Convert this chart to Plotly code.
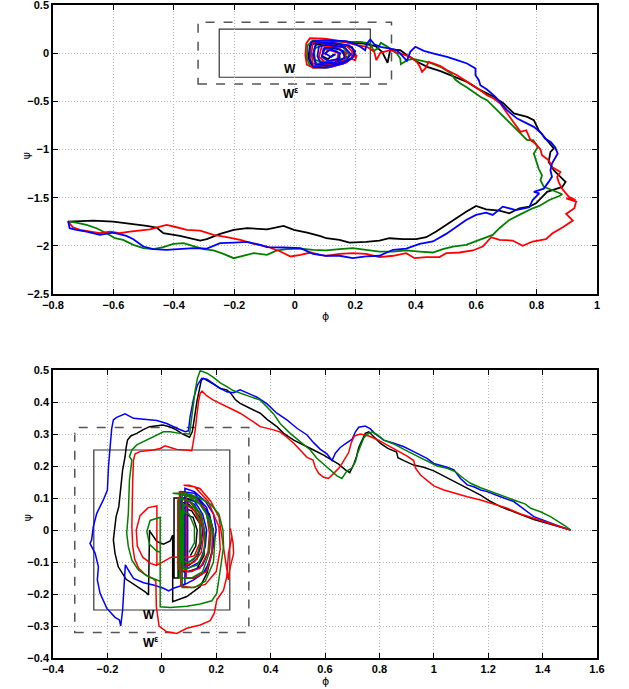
import plotly.graph_objects as go
from plotly.subplots import make_subplots

# ---------------- data: (phi, psi) points ----------------
# top panel
top_black = [(-0.750,-1.748),(-0.667,-1.738),(-0.601,-1.748),(-0.534,-1.772),(-0.490,-1.793),(-0.457,-1.810),
    (-0.435,-1.869),(-0.380,-1.897),(-0.313,-1.945),(-0.291,-1.931),(-0.247,-1.876),(-0.202,-1.834),(-0.158,-1.817),
    (-0.092,-1.828),(-0.037,-1.793),(-0.003,-1.834),(0.041,-1.862),(0.085,-1.900),(0.104,-1.921),(0.148,-1.938),
    (0.181,-1.966),(0.236,-1.959),(0.280,-1.945),(0.313,-1.921),(0.358,-1.931),(0.402,-1.931),(0.435,-1.910),
    (0.468,-1.852),(0.501,-1.783),(0.534,-1.714),(0.567,-1.645),(0.600,-1.586),(0.633,-1.621),(0.677,-1.634),
    (0.710,-1.662),(0.743,-1.610),(0.776,-1.593),(0.798,-1.559),(0.835,-1.440),(0.885,-1.388),(0.896,-1.336),
    (0.879,-1.284),(0.857,-1.215),(0.840,-1.128),(0.846,-1.025),(0.857,-0.990),(0.835,-0.903),(0.807,-0.800),
    (0.791,-0.696),(0.769,-0.661),(0.725,-0.626),(0.691,-0.522),(0.658,-0.453),(0.614,-0.384),(0.570,-0.298),
    (0.526,-0.239),(0.482,-0.187),(0.438,-0.142),(0.405,-0.090),(0.372,-0.021),(0.349,0.031),(0.316,0.038),
    (0.307,-0.100),(0.289,0.014),(0.267,0.073),(0.228,0.100),(0.206,0.107),
    (0.15,0.12),(0.08,0.12),(0.05,0.08),(0.045,-0.05),(0.06,-0.15),(0.11,-0.15),(0.17,-0.09),(0.20,-0.02),
    (0.19,0.06),(0.13,0.10),(0.07,0.09),(0.06,-0.02),(0.07,-0.11),(0.13,-0.10),(0.17,-0.04),(0.15,0.04),
    (0.10,0.06),(0.09,-0.03),(0.11,-0.06),(0.13,-0.01)]

top_green = [(-0.750,-1.748),(-0.723,-1.759),(-0.689,-1.783),(-0.656,-1.817),(-0.623,-1.869),(-0.595,-1.921),
    (-0.568,-1.938),(-0.534,-1.990),(-0.501,-2.024),(-0.468,-2.034),(-0.435,-2.014),(-0.402,-1.979),(-0.368,-1.972),
    (-0.335,-2.000),(-0.302,-2.034),(-0.269,-2.048),(-0.236,-2.083),(-0.202,-2.128),(-0.169,-2.103),(-0.136,-2.076),
    (-0.092,-2.093),(-0.059,-2.048),(-0.025,-2.034),(0.019,-2.028),(0.060,-2.041),(0.104,-2.048),(0.148,-2.034),
    (0.192,-2.024),(0.236,-2.041),(0.280,-2.059),(0.325,-2.059),(0.369,-2.048),(0.413,-2.059),(0.457,-2.069),
    (0.490,-2.034),(0.523,-2.007),(0.567,-1.990),(0.611,-1.938),(0.655,-1.886),(0.677,-1.817),(0.710,-1.731),
    (0.743,-1.679),(0.787,-1.610),(0.809,-1.586),(0.842,-1.524),(0.875,-1.483),(0.885,-1.464),(0.851,-1.420),
    (0.824,-1.388),(0.813,-1.319),(0.818,-1.267),(0.807,-1.198),(0.800,-1.129),(0.791,-1.042),(0.804,-0.973),
    (0.789,-0.904),(0.769,-0.903),(0.747,-0.834),(0.725,-0.765),(0.702,-0.696),(0.680,-0.627),(0.658,-0.557),
    (0.636,-0.488),(0.614,-0.453),(0.592,-0.402),(0.570,-0.357),(0.548,-0.315),(0.531,-0.274),(0.515,-0.205),
    (0.482,-0.142),(0.449,-0.100),(0.415,-0.073),(0.393,-0.059),(0.371,-0.073),(0.351,-0.114),(0.349,-0.055),
    (0.338,-0.004),(0.307,0.066),(0.285,0.107),(0.274,0.048),(0.261,0.024),(0.250,0.100),(0.217,0.117),
    (0.184,0.117),(0.12,0.13),(0.06,0.13),(0.042,0.08),(0.04,-0.05),(0.05,-0.13),(0.10,-0.14),(0.16,-0.09),
    (0.18,-0.02),(0.16,0.06),(0.10,0.09),(0.065,0.05),(0.065,-0.07),(0.11,-0.10),(0.15,-0.05),(0.14,0.02),(0.10,0.04)]

top_red = [(-0.750,-1.748),(-0.734,-1.807),(-0.711,-1.834),(-0.678,-1.852),(-0.645,-1.869),(-0.612,-1.852),
    (-0.579,-1.869),(-0.546,-1.852),(-0.512,-1.841),(-0.479,-1.828),(-0.446,-1.800),(-0.424,-1.783),(-0.391,-1.807),
    (-0.357,-1.834),(-0.313,-1.841),(-0.269,-1.886),(-0.225,-1.910),(-0.180,-1.938),(-0.136,-1.979),(-0.092,-2.007),
    (-0.048,-2.059),(-0.014,-2.110),(0.019,-2.093),(0.052,-2.069),(0.085,-2.093),(0.104,-2.103),(0.148,-2.083),
    (0.192,-2.076),(0.236,-2.083),(0.280,-2.117),(0.325,-2.103),(0.369,-2.076),(0.396,-2.128),(0.435,-2.117),
    (0.479,-2.117),(0.501,-2.076),(0.545,-2.069),(0.589,-2.048),(0.622,-2.007),(0.650,-1.910),(0.677,-1.938),
    (0.721,-1.945),(0.754,-2.000),(0.787,-1.955),(0.831,-1.931),(0.853,-1.869),(0.887,-1.807),(0.920,-1.738),
    (0.898,-1.669),(0.925,-1.610),(0.931,-1.541),(0.898,-1.507),(0.929,-1.526),(0.907,-1.492),(0.884,-1.406),
    (0.873,-1.336),(0.868,-1.284),(0.879,-1.233),(0.851,-1.181),(0.840,-1.111),(0.818,-1.059),(0.813,-1.000),
    (0.796,-0.938),(0.780,-0.903),(0.766,-0.800),(0.747,-0.817),(0.725,-0.723),(0.702,-0.627),(0.680,-0.523),
    (0.658,-0.471),(0.636,-0.436),(0.614,-0.384),(0.581,-0.315),(0.537,-0.229),(0.504,-0.177),(0.482,-0.135),
    (0.460,-0.107),(0.443,-0.090),(0.432,-0.159),(0.421,-0.194),(0.413,-0.135),(0.404,-0.090),(0.382,-0.038),
    (0.349,-0.004),(0.316,0.031),(0.283,0.004),(0.270,-0.073),(0.263,0.014),(0.239,0.066),(0.206,0.083),
    (0.16,0.12),(0.10,0.15),(0.05,0.155),(0.038,0.10),(0.035,-0.02),(0.04,-0.12),(0.06,-0.15),(0.12,-0.145),
    (0.17,-0.10),(0.19,-0.05),(0.205,-0.02),(0.200,-0.075),(0.188,-0.06),(0.19,0.02),(0.17,0.08),(0.11,0.12),
    (0.06,0.11),(0.055,0.0),(0.06,-0.11),(0.12,-0.12),(0.165,-0.07),(0.17,0.0),(0.14,0.06),(0.09,0.08),
    (0.08,-0.04),(0.10,-0.09),(0.14,-0.07),(0.145,0.0),(0.11,0.04),(0.10,-0.02)]

top_blue = [(-0.750,-1.741),(-0.745,-1.817),(-0.723,-1.834),(-0.689,-1.852),(-0.645,-1.886),(-0.601,-1.862),
    (-0.557,-1.897),(-0.534,-1.931),(-0.501,-2.007),(-0.468,-2.034),(-0.424,-2.041),(-0.380,-2.034),(-0.335,-2.024),
    (-0.291,-2.028),(-0.247,-1.972),(-0.202,-1.966),(-0.158,-1.959),(-0.114,-1.990),(-0.092,-2.014),(-0.037,-2.017),
    (0.019,-2.024),(0.060,-2.083),(0.104,-2.103),(0.148,-2.103),(0.192,-2.128),(0.236,-2.110),(0.280,-2.103),
    (0.325,-2.041),(0.369,-2.028),(0.413,-1.979),(0.457,-1.955),(0.501,-1.876),(0.534,-1.807),(0.567,-1.731),
    (0.600,-1.679),(0.633,-1.655),(0.655,-1.679),(0.688,-1.593),(0.732,-1.628),(0.776,-1.600),(0.787,-1.524),
    (0.809,-1.455),(0.791,-1.440),(0.824,-1.406),(0.840,-1.336),(0.851,-1.284),(0.846,-1.215),(0.851,-1.146),
    (0.870,-1.042),(0.862,-0.980),(0.847,-0.921),(0.828,-0.886),(0.817,-0.834),(0.791,-0.765),(0.758,-0.713),
    (0.736,-0.679),(0.702,-0.592),(0.680,-0.506),(0.664,-0.453),(0.636,-0.377),(0.614,-0.332),(0.609,-0.280),
    (0.598,-0.229),(0.598,-0.159),(0.570,-0.107),(0.537,-0.073),(0.504,-0.038),(0.460,-0.004),(0.427,0.024),
    (0.399,0.066),(0.382,0.014),(0.371,-0.080),(0.355,-0.021),(0.338,0.031),(0.316,0.048),(0.283,0.066),
    (0.263,0.093),(0.250,0.142),(0.239,0.100),(0.233,0.031),(0.217,0.066),(0.195,0.100),
    (0.17,0.125),(0.10,0.135),(0.055,0.12),(0.05,0.04),(0.05,-0.06),(0.06,-0.14),(0.10,-0.15),(0.16,-0.11),
    (0.19,-0.05),(0.20,0.02),(0.18,0.08),(0.12,0.11),(0.07,0.105),(0.062,0.0),(0.07,-0.12),(0.12,-0.13),
    (0.17,-0.08),(0.185,-0.01),(0.165,0.06),(0.11,0.09),(0.08,0.07),(0.075,-0.03),(0.085,-0.10),(0.13,-0.10),
    (0.165,-0.05),(0.16,0.02),(0.13,0.06),(0.095,0.05),(0.09,-0.04),(0.11,-0.08),(0.145,-0.06),(0.15,0.0),
    (0.12,0.04),(0.10,0.0),(0.12,-0.04),(0.135,-0.01)]

# bottom panel
bot_black = [(1.503,0.0),(1.466,0.008),(1.417,0.021),(1.368,0.033),(1.331,0.044),(1.294,0.057),(1.245,0.073),
    (1.209,0.089),(1.172,0.109),(1.135,0.125),(1.098,0.141),(1.061,0.158),(1.037,0.167),(1.000,0.185),
    (0.963,0.196),(0.926,0.203),(0.890,0.217),(0.868,0.226),(0.863,0.244),(0.831,0.255),(0.804,0.271),
    (0.779,0.292),(0.761,0.307),(0.748,0.302),(0.736,0.279),(0.724,0.258),(0.715,0.227),(0.706,0.206),
    (0.691,0.179),(0.675,0.188),(0.650,0.206),(0.626,0.219),(0.595,0.234),(0.558,0.250),(0.522,0.266),
    (0.485,0.281),(0.448,0.302),(0.423,0.323),(0.387,0.346),(0.362,0.365),(0.337,0.375),(0.313,0.385),
    (0.288,0.396),(0.270,0.408),(0.254,0.427),(0.239,0.438),(0.215,0.442),(0.190,0.456),(0.168,0.467),
    (0.153,0.474),(0.145,0.467),(0.139,0.443),(0.129,0.401),(0.119,0.344),(0.112,0.307),(0.102,0.290),
    (0.077,0.300),(0.053,0.313),(0.028,0.323),(0.004,0.328),(-0.021,0.325),(-0.045,0.323),(-0.070,0.313),
    (-0.092,0.302),(-0.114,0.294),(-0.126,0.281),(-0.131,0.258),(-0.135,0.229),(-0.144,0.188),(-0.151,0.135),
    (-0.158,0.073),(-0.168,0.042),(-0.173,0.0),(-0.178,-0.031),(-0.172,-0.073),(-0.160,-0.115),(-0.131,-0.154),
    (-0.092,-0.177),(-0.061,-0.193),(-0.049,-0.203),(-0.045,0.0),(-0.043,-0.005),(-0.018,-0.036),(0.006,-0.044),
    (0.031,-0.034),(0.040,-0.016),(0.040,-0.224),(0.092,-0.208),(0.141,-0.177),(0.166,-0.135),(0.185,-0.07),
    (0.19,-0.01),(0.175,0.05),(0.14,0.085),(0.09,0.10),
    (0.045,0.100),(0.045,-0.15),(0.06,-0.15),(0.06,0.09),(0.10,0.08),(0.14,0.04),(0.16,-0.02),(0.155,-0.08),
    (0.13,-0.12),(0.095,-0.13),(0.075,-0.13),(0.075,0.07),(0.11,0.06),(0.14,0.02),(0.145,-0.04),(0.13,-0.09),
    (0.10,-0.11),(0.085,-0.11),(0.085,0.05),(0.115,0.04),(0.13,0.0),(0.125,-0.05),(0.105,-0.08)]

bot_blue = [(1.503,0.0),(1.466,0.010),(1.417,0.026),(1.368,0.042),(1.319,0.073),(1.294,0.089),(1.245,0.104),
    (1.196,0.120),(1.172,0.125),(1.147,0.135),(1.123,0.141),(1.098,0.161),(1.074,0.188),(1.049,0.196),
    (1.000,0.208),(0.975,0.224),(0.926,0.245),(0.890,0.260),(0.853,0.271),(0.816,0.281),(0.785,0.300),
    (0.767,0.316),(0.748,0.325),(0.724,0.321),(0.712,0.307),(0.699,0.283),(0.681,0.273),(0.656,0.258),
    (0.638,0.240),(0.626,0.217),(0.607,0.238),(0.583,0.252),(0.558,0.273),(0.534,0.297),(0.497,0.318),
    (0.460,0.344),(0.423,0.365),(0.387,0.394),(0.350,0.415),(0.313,0.430),(0.288,0.438),(0.264,0.429),
    (0.239,0.432),(0.215,0.443),(0.190,0.458),(0.166,0.471),(0.147,0.474),(0.131,0.453),(0.117,0.411),
    (0.104,0.354),(0.098,0.310),(0.086,0.307),(0.055,0.318),(0.018,0.333),(-0.018,0.342),(-0.055,0.346),
    (-0.104,0.349),(-0.135,0.363),(-0.166,0.352),(-0.178,0.344),(-0.184,0.318),(-0.190,0.260),(-0.196,0.198),
    (-0.200,0.125),(-0.215,0.094),(-0.239,0.052),(-0.252,0.010),(-0.258,-0.031),(-0.264,-0.042),(-0.245,-0.073),
    (-0.233,-0.115),(-0.237,-0.156),(-0.227,-0.198),(-0.202,-0.245),(-0.172,-0.273),(-0.156,-0.281),
    (-0.151,-0.300),(-0.144,-0.250),(-0.139,-0.177),(-0.134,-0.109),(-0.123,-0.125),(-0.104,-0.151),
    (-0.067,-0.165),(-0.031,-0.172),(0.006,-0.182),(0.025,-0.190),(0.043,-0.182),(0.080,-0.172),(0.117,-0.156),
    (0.153,-0.135),(0.172,-0.104),(0.19,-0.05),(0.20,0.0),(0.19,0.05),(0.16,0.09),(0.12,0.12),
    (0.085,0.130),(0.085,-0.17),(0.07,-0.17),(0.07,0.120),(0.12,0.115),(0.165,0.07),(0.19,0.0),(0.185,-0.07),
    (0.16,-0.13),(0.12,-0.15),(0.09,-0.15),(0.09,0.110),(0.13,0.10),(0.165,0.06),(0.18,0.0),(0.175,-0.06),
    (0.15,-0.11),(0.11,-0.13),(0.075,-0.13),(0.075,0.100),(0.12,0.09),(0.15,0.05),(0.165,0.0),(0.16,-0.05),
    (0.14,-0.10),(0.10,-0.12),(0.095,-0.12),(0.095,0.090),(0.12,0.08),(0.145,0.04),(0.15,-0.01),(0.14,-0.06),
    (0.12,-0.09),(0.10,-0.10)]

bot_red = [(1.503,0.0),(1.466,0.010),(1.417,0.023),(1.368,0.036),(1.319,0.050),(1.270,0.068),(1.221,0.081),
    (1.172,0.094),(1.123,0.104),(1.074,0.117),(1.037,0.125),(1.000,0.138),(0.975,0.154),(0.951,0.172),
    (0.933,0.193),(0.926,0.217),(0.902,0.231),(0.865,0.248),(0.828,0.266),(0.791,0.283),(0.761,0.294),
    (0.730,0.300),(0.708,0.294),(0.696,0.271),(0.687,0.242),(0.671,0.219),(0.654,0.196),(0.632,0.177),
    (0.613,0.161),(0.595,0.165),(0.577,0.177),(0.564,0.196),(0.556,0.219),(0.534,0.227),(0.509,0.250),
    (0.485,0.271),(0.460,0.290),(0.436,0.306),(0.411,0.313),(0.387,0.318),(0.362,0.323),(0.337,0.338),
    (0.313,0.352),(0.288,0.365),(0.264,0.375),(0.239,0.385),(0.215,0.396),(0.190,0.406),(0.166,0.419),
    (0.148,0.434),(0.141,0.427),(0.135,0.401),(0.129,0.359),(0.123,0.313),(0.114,0.266),(0.110,0.248),
    (0.086,0.250),(0.055,0.252),(0.031,0.258),(0.012,0.263),(-0.006,0.255),(-0.031,0.250),(-0.055,0.248),
    (-0.080,0.245),(-0.098,0.238),(-0.104,0.219),(-0.107,0.156),(-0.109,0.083),(-0.110,0.010),(-0.107,-0.050),
    (-0.100,-0.090),(-0.085,-0.120),(-0.060,-0.140),(-0.035,-0.150),(-0.022,-0.160),(-0.020,-0.240),
    (-0.010,-0.300),(0.018,-0.318),(0.055,-0.323),(0.092,-0.307),(0.141,-0.297),(0.178,-0.283),(0.193,-0.260),
    (0.202,-0.219),(0.227,-0.188),(0.239,-0.146),(0.245,-0.073),(0.258,-0.021),(0.252,0.005),(0.262,-0.040),
    (0.264,-0.073),(0.249,-0.125),(0.245,-0.156),(0.235,-0.10),(0.225,-0.03),(0.21,0.04),(0.18,0.09),
    (0.14,0.13),(0.10,0.14),
    (0.080,0.140),(0.12,0.135),(0.17,0.09),(0.21,0.01),(0.215,-0.06),(0.20,-0.13),(0.16,-0.17),(0.11,-0.18),
    (0.07,-0.175),(0.065,0.12),(0.11,0.11),(0.155,0.07),(0.185,0.0),(0.185,-0.07),(0.165,-0.13),(0.12,-0.15),
    (0.09,-0.15),(0.09,0.11),(0.13,0.095),(0.165,0.05),(0.175,-0.01),(0.17,-0.07),(0.14,-0.12),(0.10,-0.13),
    (0.06,-0.12),(0.06,0.10),(0.10,0.09),(0.14,0.05),(0.155,-0.01),(0.145,-0.07),(0.12,-0.10),(0.09,-0.11),
    (0.09,0.08),(0.12,0.06),(0.14,0.02),(0.14,-0.04),(0.12,-0.08),(0.10,-0.085),
    (0.035,-0.085),(-0.018,-0.110),(-0.018,0.075),(-0.05,0.07),(-0.08,0.045),(-0.094,0.0),(-0.09,-0.05),
    (-0.07,-0.085),(-0.04,-0.105),(-0.02,-0.11)]

bot_green = [(1.503,0.0),(1.484,0.0125),(1.429,0.042),(1.392,0.057),(1.356,0.068),(1.337,0.081),(1.294,0.094),
    (1.245,0.109),(1.196,0.125),(1.172,0.132),(1.135,0.146),(1.110,0.161),(1.080,0.182),(1.049,0.193),
    (1.012,0.200),(0.975,0.217),(0.939,0.231),(0.890,0.252),(0.853,0.269),(0.816,0.281),(0.794,0.297),
    (0.773,0.307),(0.755,0.300),(0.742,0.287),(0.732,0.266),(0.720,0.240),(0.712,0.214),(0.699,0.193),
    (0.681,0.185),(0.662,0.161),(0.644,0.169),(0.619,0.188),(0.601,0.203),(0.570,0.224),(0.546,0.250),
    (0.509,0.276),(0.472,0.302),(0.435,0.333),(0.411,0.363),(0.386,0.385),(0.362,0.406),(0.325,0.417),
    (0.288,0.427),(0.264,0.435),(0.239,0.448),(0.215,0.460),(0.190,0.477),(0.166,0.490),(0.141,0.498),
    (0.131,0.474),(0.123,0.438),(0.114,0.385),(0.104,0.323),(0.102,0.300),(0.067,0.302),(0.031,0.307),
    (0.006,0.307),(-0.018,0.297),(-0.055,0.283),(-0.092,0.266),(-0.110,0.250),(-0.119,0.229),(-0.110,0.219),
    (-0.119,0.156),(-0.123,0.052),(-0.129,-0.010),(-0.123,-0.052),(-0.110,-0.094),(-0.086,-0.125),
    (-0.049,-0.146),(-0.018,-0.156),(-0.006,-0.161),(-0.006,0.040),(-0.043,0.030),(-0.055,-0.005),
    (-0.045,-0.045),(-0.020,-0.065),(-0.006,-0.070),(-0.006,-0.240),(0.031,-0.242),(0.092,-0.238),
    (0.141,-0.231),(0.184,-0.221),(0.202,-0.198),(0.215,-0.125),(0.227,-0.052),(0.225,0.0),(0.21,0.05),
    (0.18,0.08),(0.14,0.10),(0.09,0.115),
    (0.040,0.115),(0.09,0.11),(0.14,0.08),(0.18,0.03),(0.195,-0.03),(0.19,-0.10),(0.16,-0.16),(0.12,-0.18),
    (0.075,-0.18),(0.075,0.11),(0.12,0.10),(0.16,0.06),(0.18,0.0),(0.175,-0.07),(0.15,-0.13),(0.11,-0.15),
    (0.065,-0.15),(0.065,0.10),(0.105,0.09),(0.145,0.05),(0.16,-0.01),(0.155,-0.07),(0.13,-0.11),(0.09,-0.12),
    (0.08,-0.12),(0.08,0.08),(0.12,0.07),(0.14,0.03),(0.145,-0.03),(0.13,-0.08),(0.10,-0.10),(0.07,-0.10),
    (0.07,0.06),(0.10,0.05),(0.12,0.01),(0.12,-0.04),(0.10,-0.07)]

# regions W (solid) and W^eps (dashed), half-widths
w_half = 0.25
weps_half = 0.32

top_xticks = [-0.8, -0.6, -0.4, -0.2, 0, 0.2, 0.4, 0.6, 0.8, 1]
top_yticks = [-2.5, -2, -1.5, -1, -0.5, 0, 0.5]
bot_xticks = [-0.4, -0.2, 0, 0.2, 0.4, 0.6, 0.8, 1, 1.2, 1.4, 1.6]
bot_yticks = [-0.4, -0.3, -0.2, -0.1, 0, 0.1, 0.2, 0.3, 0.4, 0.5]

# ---------------- figure ----------------
fig = make_subplots(rows=2, cols=1)
fig.layout.yaxis.domain = [0.5574, 1.0]
fig.layout.yaxis2.domain = [0.0, 0.441]

colors = {"black": "#000000", "blue": "#0000ff", "red": "#ff0000", "green": "#008000"}

for name, data in [("black", top_black), ("green", top_green), ("red", top_red), ("blue", top_blue)]:
    xs, ys = zip(*data)
    fig.add_trace(go.Scatter(x=xs, y=ys, mode="lines", line=dict(color=colors[name], width=1.8),
                             showlegend=False, hoverinfo="skip"), row=1, col=1)

for name, data in [("black", bot_black), ("blue", bot_blue), ("red", bot_red), ("green", bot_green)]:
    xs, ys = zip(*data)
    fig.add_trace(go.Scatter(x=xs, y=ys, mode="lines", line=dict(color=colors[name], width=1.5),
                             showlegend=False, hoverinfo="skip"), row=2, col=1)

tickfont = dict(family="Liberation Sans, Arial, sans-serif", size=11, color="black", weight="bold")
axis_common = dict(showline=True, linecolor="black", linewidth=1.5, mirror="ticks", ticks="inside",
                   ticklen=5, tickcolor="black", showgrid=True, gridcolor="#b8b8b8", griddash="1px,2px",
                   gridwidth=1, zeroline=False, tickfont=tickfont, automargin=False,
                   ticklabeloverflow="allow")

fig.update_xaxes(range=[-0.8, 1.0], tickvals=top_xticks, **axis_common, row=1, col=1)
fig.update_yaxes(range=[-2.5, 0.5], tickvals=top_yticks, **axis_common, row=1, col=1)
fig.update_xaxes(range=[-0.4, 1.6], tickvals=bot_xticks, **axis_common, row=2, col=1)
fig.update_yaxes(range=[-0.4, 0.5], tickvals=bot_yticks, **axis_common, row=2, col=1)

for xr, yr in [("x", "y"), ("x2", "y2")]:
    fig.add_shape(type="rect", xref=xr, yref=yr, x0=-weps_half, x1=weps_half, y0=-weps_half, y1=weps_half,
                  line=dict(color="#555555", width=1.5, dash="dash"), layer="below")
    fig.add_shape(type="rect", xref=xr, yref=yr, x0=-w_half, x1=w_half, y0=-w_half, y1=w_half,
                  line=dict(color="#333333", width=1.2), layer="below")

lblfont = dict(family="Liberation Sans, Arial, sans-serif", size=12, color="black", weight="bold")
fig.add_annotation(xref="x", yref="y", x=-0.015, y=-0.16, text="W", showarrow=False, font=lblfont)
fig.add_annotation(xref="x", yref="y", x=-0.015, y=-0.41, text="W<sup>ε</sup>", showarrow=False, font=lblfont)
fig.add_annotation(xref="x2", yref="y2", x=-0.046, y=-0.266, text="W", showarrow=False, font=lblfont)
fig.add_annotation(xref="x2", yref="y2", x=-0.043, y=-0.35, text="W<sup>ε</sup>", showarrow=False, font=lblfont)

afont = dict(family="DejaVu Sans, sans-serif", size=11, color="black")
fig.add_annotation(xref="paper", yref="paper", x=0.5, y=0.5230, text="ϕ", showarrow=False, font=afont)
fig.add_annotation(xref="paper", yref="paper", x=0.5, y=-0.0475, yanchor="bottom", borderpad=0,
                   text="ϕ", showarrow=False, font=afont)
fig.add_annotation(xref="paper", yref="paper", x=-0.064, y=0.778, text="ψ", showarrow=False, font=afont,
                   textangle=-90)
fig.add_annotation(xref="paper", yref="paper", x=-0.062, y=0.2067, text="ψ", showarrow=False, font=afont,
                   textangle=-90)

fig.update_layout(width=629, height=689, margin=dict(l=53, r=32, t=5, b=31),
                  paper_bgcolor="white", plot_bgcolor="white", showlegend=False)

fig.write_html("out.html", config={"displayModeBar": False},
               post_script="document.body.style.margin='0';document.body.style.padding='0';")
